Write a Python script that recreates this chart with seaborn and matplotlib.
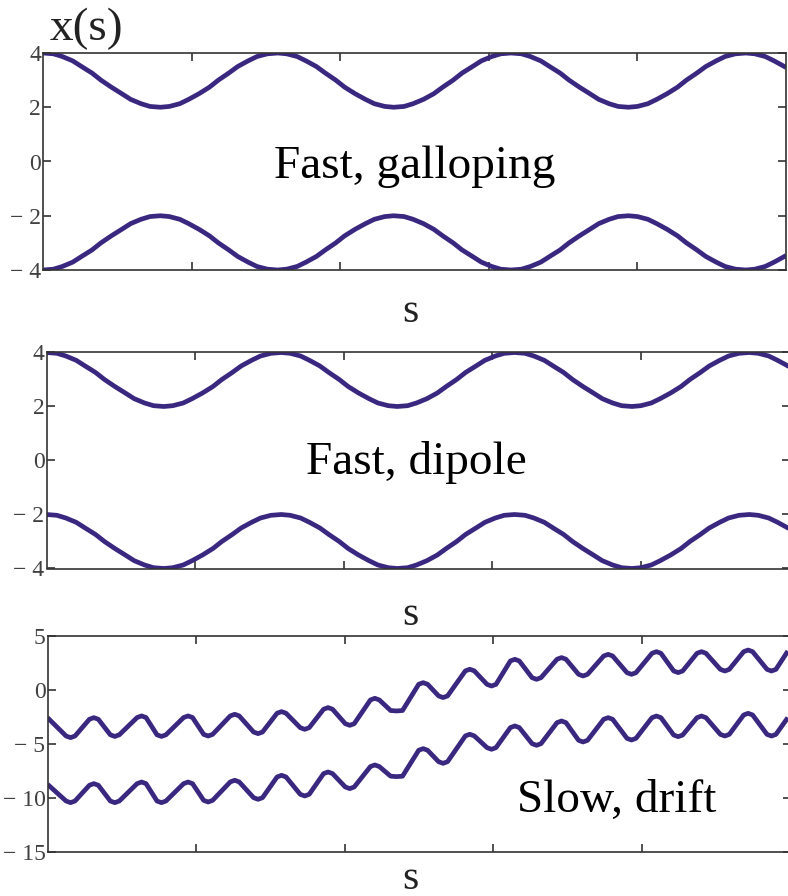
import matplotlib
matplotlib.use("Agg")
import matplotlib.pyplot as plt
import pandas as pd
import seaborn as sns

# ---- data -------------------------------------------------------------
# fast modes: sampled positions along s (same sampling for both panels)
s_fast = [0.00, 0.07, 0.13, 0.20, 0.26, 0.33, 0.39, 0.46, 0.53, 0.59, 0.66, 0.72,
          0.79, 0.85, 0.92, 0.98, 1.05, 1.12, 1.18, 1.25, 1.31, 1.38, 1.44, 1.51,
          1.58, 1.64, 1.71, 1.77, 1.84, 1.90, 1.97, 2.03, 2.10, 2.17, 2.23, 2.30,
          2.36, 2.43, 2.49, 2.56, 2.63, 2.69, 2.76, 2.82, 2.89, 2.95, 3.02, 3.08,
          3.15, 3.22, 3.28, 3.35, 3.41, 3.48, 3.54, 3.61, 3.68, 3.74, 3.81, 3.87,
          3.94, 4.00, 4.07, 4.13, 4.20, 4.27, 4.33, 4.40, 4.46, 4.53, 4.59, 4.66,
          4.73, 4.79, 4.86, 4.92, 4.99, 5.00]

gallop_upper = [4.00, 3.97, 3.87, 3.71, 3.50, 3.26, 3.00, 2.74, 2.50, 2.29, 2.13, 2.03,
                2.00, 2.03, 2.13, 2.29, 2.50, 2.74, 3.00, 3.26, 3.50, 3.71, 3.87, 3.97,
                4.00, 3.97, 3.87, 3.71, 3.50, 3.26, 3.00, 2.74, 2.50, 2.29, 2.13, 2.03,
                2.00, 2.03, 2.13, 2.29, 2.50, 2.74, 3.00, 3.26, 3.50, 3.71, 3.87, 3.97,
                4.00, 3.97, 3.87, 3.71, 3.50, 3.26, 3.00, 2.74, 2.50, 2.29, 2.13, 2.03,
                2.00, 2.03, 2.13, 2.29, 2.50, 2.74, 3.00, 3.26, 3.50, 3.71, 3.87, 3.97,
                4.00, 3.97, 3.87, 3.71, 3.50, 3.46]
gallop_lower = [-4.00, -3.97, -3.87, -3.71, -3.50, -3.26, -3.00, -2.74, -2.50, -2.29, -2.13, -2.03,
                -2.00, -2.03, -2.13, -2.29, -2.50, -2.74, -3.00, -3.26, -3.50, -3.71, -3.87, -3.97,
                -4.00, -3.97, -3.87, -3.71, -3.50, -3.26, -3.00, -2.74, -2.50, -2.29, -2.13, -2.03,
                -2.00, -2.03, -2.13, -2.29, -2.50, -2.74, -3.00, -3.26, -3.50, -3.71, -3.87, -3.97,
                -4.00, -3.97, -3.87, -3.71, -3.50, -3.26, -3.00, -2.74, -2.50, -2.29, -2.13, -2.03,
                -2.00, -2.03, -2.13, -2.29, -2.50, -2.74, -3.00, -3.26, -3.50, -3.71, -3.87, -3.97,
                -4.00, -3.97, -3.87, -3.71, -3.50, -3.46]

dipole_upper = [4.00, 3.97, 3.87, 3.71, 3.50, 3.26, 3.00, 2.74, 2.50, 2.29, 2.13, 2.03,
                2.00, 2.03, 2.13, 2.29, 2.50, 2.74, 3.00, 3.26, 3.50, 3.71, 3.87, 3.97,
                4.00, 3.97, 3.87, 3.71, 3.50, 3.26, 3.00, 2.74, 2.50, 2.29, 2.13, 2.03,
                2.00, 2.03, 2.13, 2.29, 2.50, 2.74, 3.00, 3.26, 3.50, 3.71, 3.87, 3.97,
                4.00, 3.97, 3.87, 3.71, 3.50, 3.26, 3.00, 2.74, 2.50, 2.29, 2.13, 2.03,
                2.00, 2.03, 2.13, 2.29, 2.50, 2.74, 3.00, 3.26, 3.50, 3.71, 3.87, 3.97,
                4.00, 3.97, 3.87, 3.71, 3.50, 3.46]
dipole_lower = [-2.00, -2.03, -2.13, -2.29, -2.50, -2.74, -3.00, -3.26, -3.50, -3.71, -3.87, -3.97,
                -4.00, -3.97, -3.87, -3.71, -3.50, -3.26, -3.00, -2.74, -2.50, -2.29, -2.13, -2.03,
                -2.00, -2.03, -2.13, -2.29, -2.50, -2.74, -3.00, -3.26, -3.50, -3.71, -3.87, -3.97,
                -4.00, -3.97, -3.87, -3.71, -3.50, -3.26, -3.00, -2.74, -2.50, -2.29, -2.13, -2.03,
                -2.00, -2.03, -2.13, -2.29, -2.50, -2.74, -3.00, -3.26, -3.50, -3.71, -3.87, -3.97,
                -4.00, -3.97, -3.87, -3.71, -3.50, -3.26, -3.00, -2.74, -2.50, -2.29, -2.13, -2.03,
                -2.00, -2.03, -2.13, -2.29, -2.50, -2.54]

# slow mode: turning points along s, each with its two shoulder samples
s_slow = [0.000,
          0.125, 0.155, 0.185, 0.282, 0.312, 0.342, 0.423, 0.453, 0.483,
          0.603, 0.633, 0.663, 0.737, 0.767, 0.797, 0.916, 0.946, 0.976,
          1.051, 1.081, 1.111, 1.230, 1.260, 1.290, 1.387, 1.417, 1.447,
          1.545, 1.575, 1.605, 1.701, 1.731, 1.761, 1.858, 1.888, 1.918,
          2.004, 2.034, 2.064, 2.173, 2.203, 2.233, 2.309, 2.349, 2.389,
          2.498, 2.528, 2.558, 2.632, 2.662, 2.692, 2.812, 2.842, 2.872,
          2.958, 2.988, 3.018, 3.115, 3.145, 3.175, 3.261, 3.291, 3.321,
          3.429, 3.459, 3.489, 3.574, 3.604, 3.634, 3.743, 3.773, 3.803,
          3.900, 3.930, 3.960, 4.068, 4.098, 4.128, 4.214, 4.244, 4.274,
          4.371, 4.401, 4.431, 4.528, 4.558, 4.588, 4.685, 4.715, 4.745,
          4.842, 4.872, 4.902,
          4.982]
drift_upper = [-2.56,
               -4.26, -4.41, -4.26, -2.71, -2.56, -2.71, -4.15, -4.30, -4.15,
               -2.55, -2.40, -2.55, -4.15, -4.30, -4.15, -2.55, -2.40, -2.55,
               -4.11, -4.26, -4.11, -2.40, -2.25, -2.40, -3.89, -4.04, -3.89,
               -2.15, -2.00, -2.15, -3.49, -3.64, -3.49, -1.78, -1.63, -1.78,
               -3.12, -3.27, -3.12, -0.92, -0.77, -0.92, -1.90, -1.94, -1.90,
               0.53, 0.68, 0.53, -0.55, -0.70, -0.55, 1.77, 1.92, 1.77,
               0.52, 0.37, 0.52, 2.69, 2.84, 2.69, 1.14, 0.99, 1.14,
               2.85, 3.00, 2.85, 1.45, 1.30, 1.45, 3.15, 3.30, 3.15,
               1.60, 1.45, 1.60, 3.40, 3.55, 3.40, 1.76, 1.61, 1.76,
               3.40, 3.55, 3.40, 1.91, 1.76, 1.91, 3.55, 3.70, 3.55,
               1.91, 1.76, 1.91,
               3.60]
drift_lower = [-8.73,
               -10.28, -10.43, -10.28, -8.82, -8.67, -8.82, -10.28, -10.43, -10.28,
               -8.67, -8.52, -8.67, -10.28, -10.43, -10.28, -8.67, -8.52, -8.67,
               -10.22, -10.37, -10.22, -8.51, -8.36, -8.51, -9.97, -10.12, -9.97,
               -8.05, -7.90, -8.05, -9.66, -9.81, -9.66, -7.74, -7.59, -7.74,
               -8.98, -9.13, -8.98, -7.09, -6.94, -7.09, -7.98, -8.02, -7.98,
               -5.58, -5.43, -5.58, -6.64, -6.79, -6.64, -4.25, -4.10, -4.25,
               -5.34, -5.49, -5.34, -3.48, -3.33, -3.48, -4.97, -5.12, -4.97,
               -3.02, -2.87, -3.02, -4.66, -4.81, -4.66, -2.71, -2.56, -2.71,
               -4.48, -4.63, -4.48, -2.56, -2.41, -2.56, -4.17, -4.32, -4.17,
               -2.56, -2.41, -2.56, -4.11, -4.26, -4.11, -2.31, -2.16, -2.31,
               -4.11, -4.26, -4.11,
               -2.56]

fast_ticks = [-4, -2, 0, 2, 4]
fast_ticklabels = ["\u2212 4", "\u2212 2", "0", "2", "4"]
slow_ticks = [-15, -10, -5, 0, 5]
slow_ticklabels = ["\u2212 15", "\u2212 10", "\u2212 5", "0", "5"]
s_ticks = [1, 2, 3, 4]

panel_titles = ["Fast, galloping", "Fast, dipole", "Slow, drift"]

# ---- style ------------------------------------------------------------
sns.set_theme(style="ticks")
plt.rcParams["font.family"] = ["Liberation Serif", "DejaVu Serif"]

LINE = "#3a2880"
SPINE = "#333333"
TICKLBL = "#404040"

W, H = 788, 896
fig = plt.figure(figsize=(W / 100, H / 100), dpi=100)


def px_axes(left, top, right, bottom):
    return fig.add_axes([left / W, 1 - bottom / H, (right - left) / W, (bottom - top) / H])


ax1 = px_axes(43, 53, 786, 270)
ax2 = px_axes(46.5, 352.5, 789.5, 568.5)
ax3 = px_axes(47.5, 636, 790.5, 852)


def draw(ax, s, upper, lower):
    df = pd.DataFrame({
        "s": list(s) * 2,
        "x": list(upper) + list(lower),
        "branch": ["upper"] * len(s) + ["lower"] * len(s),
    })
    sns.lineplot(data=df, x="s", y="x", units="branch", estimator=None, sort=False,
                 color=LINE, lw=3.4, ax=ax, legend=False)


draw(ax1, s_fast, gallop_upper, gallop_lower)
draw(ax2, s_fast, dipole_upper, dipole_lower)
draw(ax3, s_slow, drift_upper, drift_lower)

for ax, ticks, labels, lim in [(ax1, fast_ticks, fast_ticklabels, (-4, 4)),
                               (ax2, fast_ticks, fast_ticklabels, (-4, 4)),
                               (ax3, slow_ticks, slow_ticklabels, (-15, 5))]:
    ax.set_xlim(0, 5)
    ax.set_ylim(*lim)
    ax.set_xticks(s_ticks)
    ax.set_xticklabels([])
    ax.set_yticks(ticks)
    ax.set_yticklabels(labels)
    ax.set_xlabel("")
    ax.set_ylabel("")
    for sp in ax.spines.values():
        sp.set_visible(True)
        sp.set_color(SPINE)
        sp.set_linewidth(1.2)
    ax.tick_params(axis="both", direction="in", length=6, width=1.2, color=SPINE,
                   top=True, right=True, bottom=True, left=True)
    ax.tick_params(axis="y", labelsize=17, labelcolor=TICKLBL, pad=1.5)
    for line in ax.get_lines():
        line.set_solid_joinstyle("round")
        line.set_solid_capstyle("butt")

ax1.text(2.5, -0.2, panel_titles[0], ha="center", va="center", fontsize=34, color="black")
ax2.text(2.49, -0.06, panel_titles[1], ha="center", va="center", fontsize=34, color="black")
ax3.text(3.83, -10.28, panel_titles[2], ha="center", va="center", fontsize=34, color="black")

fig.text(50 / W, 1 - 29 / H, "x(s)", ha="left", va="center", fontsize=34, color="#222222")
for yc in (312, 615, 879):
    fig.text(410 / W, 1 - yc / H, "s", ha="center", va="center", fontsize=30, color="#222222")

fig.savefig("out.png", dpi=100)
